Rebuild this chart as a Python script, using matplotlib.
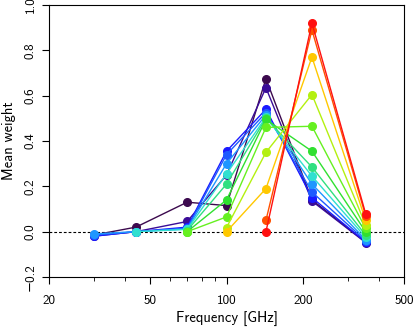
import matplotlib
matplotlib.use("Agg")
import matplotlib.pyplot as plt
import numpy as np
from matplotlib.ticker import FixedLocator, FixedFormatter, LogLocator, NullFormatter

plt.rcParams['font.family'] = ['cmss10', 'DejaVu Sans']
plt.rcParams['axes.unicode_minus'] = True

freqs = [30, 44, 70, 100, 143, 217, 353]

# weights per line (None = not plotted at that frequency)
w01 = [-0.015, 0.02, 0.13, 0.115, 0.675, 0.14, -0.045]
w02 = [-0.02, 0.0, 0.045, 0.25, 0.635, 0.135, -0.048]
w03 = [-0.02, 0.0, 0.02, 0.355, 0.54, 0.15, -0.045]
w04 = [-0.015, 0.0, 0.015, 0.34, 0.525, 0.175, -0.04]
w05 = [-0.01, 0.0, 0.012, 0.30, 0.515, 0.21, -0.035]
w06 = [None, 0.0, 0.01, 0.255, 0.505, 0.245, -0.025]
w07 = [None, None, 0.005, 0.21, 0.50, 0.285, -0.015]
w08 = [None, None, 0.0, 0.14, 0.495, 0.355, 0.0]
w09 = [None, None, 0.0, 0.065, 0.46, 0.465, 0.015]
w10 = [None, None, None, 0.018, 0.35, 0.605, 0.03]
w11 = [None, None, None, 0.0, 0.19, 0.77, 0.05]
w12 = [None, None, None, None, 0.05, 0.89, 0.07]
w13 = [None, None, None, None, 0.0, 0.92, 0.08]

weights = [w01, w02, w03, w04, w05, w06, w07, w08, w09, w10, w11, w12, w13]
colors = ['#3c0a4e', '#3a0c98', '#1a1aff', '#1e5aff', '#1e96ff', '#30e0d0',
          '#30e080', '#30e030', '#66f020', '#b4f010', '#ffc800', '#ff5000', '#ff1010']

xticks = [20, 50, 100, 200, 500]
xticklabels = ['20', '50', '100', '200', '500']

fig = plt.figure(figsize=(4.16, 3.28), dpi=100)
ax = fig.add_axes([49/416, 1-277/328, 355/416, 272/328])

ax.axhline(0, color='black', lw=0.8, ls='--', dashes=(2.5, 1.8), zorder=1)

for w, c in zip(weights, colors):
    x = [f for f, v in zip(freqs, w) if v is not None]
    y = [v for v in w if v is not None]
    ax.plot(x, y, '-o', color=c, lw=1.0, ms=5.5, zorder=2)

ax.set_xscale('log')
ax.set_xlim(20, 500)
ax.set_ylim(-0.2, 1.0)
ax.xaxis.set_major_locator(FixedLocator(xticks))
ax.xaxis.set_major_formatter(FixedFormatter(xticklabels))
ax.xaxis.set_minor_locator(LogLocator(base=10, subs=np.arange(2, 10)))
ax.xaxis.set_minor_formatter(NullFormatter())
ax.set_yticks(np.arange(-0.2, 1.01, 0.2))
ax.set_yticklabels(['\u22120.2', '0.0', '0.2', '0.4', '0.6', '0.8', '1.0'],
                   rotation=90, va='center')

ax.tick_params(axis='both', which='major', direction='out', length=5, width=0.8,
               labelsize=9.5, pad=4)
ax.tick_params(axis='x', which='minor', direction='out', length=3, width=0.6)
ax.tick_params(axis='x', which='major', pad=8)

for s in ax.spines.values():
    s.set_linewidth(0.8)

ax.set_xlabel('Frequency [GHz]', fontsize=10.5, labelpad=3)
ax.set_ylabel('Mean weight', fontsize=10.5, labelpad=6)

fig.savefig('out.png', dpi=100)
